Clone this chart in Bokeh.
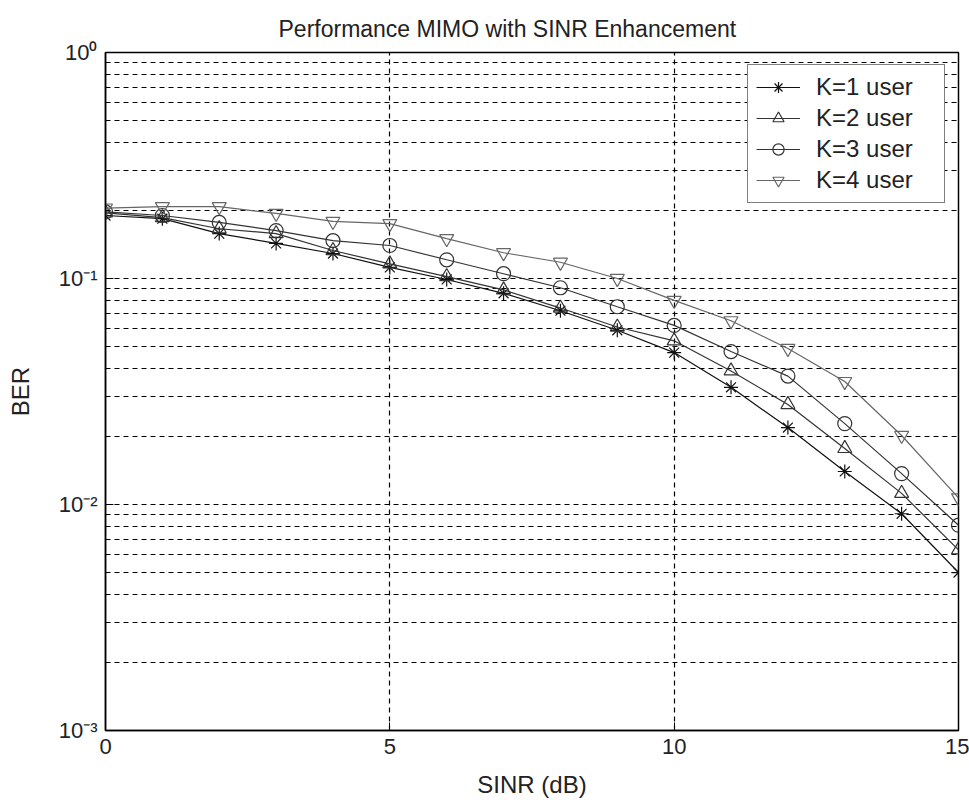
from bokeh.plotting import figure
from bokeh.models import FixedTicker, Legend, LegendItem, Range1d
from bokeh.embed import file_html
from bokeh.resources import INLINE

snr = list(range(16))
k1 = [0.19, 0.184, 0.158, 0.143, 0.129, 0.112, 0.099, 0.086, 0.072, 0.059, 0.047, 0.033, 0.0219, 0.014, 0.0091, 0.005]
k2 = [0.195, 0.186, 0.166, 0.158, 0.133, 0.116, 0.102, 0.089, 0.074, 0.061, 0.053, 0.039, 0.0277, 0.0177, 0.0112, 0.0063]
k3 = [0.197, 0.19, 0.177, 0.163, 0.147, 0.14, 0.121, 0.105, 0.091, 0.075, 0.062, 0.0475, 0.037, 0.0228, 0.0137, 0.0081]
k4 = [0.205, 0.208, 0.208, 0.194, 0.179, 0.175, 0.150, 0.130, 0.118, 0.100, 0.080, 0.065, 0.049, 0.035, 0.0202, 0.0107]
labels = ["K=1 user", "K=2 user", "K=3 user", "K=4 user"]
x_ticks = [0, 5, 10, 15]
y_ticks = [1e-3, 1e-2, 1e-1, 1.0]
y_tick_labels = {1e-3: "10\u207b\u00b3", 1e-2: "10\u207b\u00b2", 1e-1: "10\u207b\u00b9", 1.0: "10\u2070"}

FONT = "Liberation Sans"

p = figure(width=969, height=806, y_axis_type="log", output_backend="svg",
           toolbar_location=None, title="Performance MIMO with SINR Enhancement",
           x_range=Range1d(0, 15), y_range=Range1d(1e-3, 1.0),
           min_border_left=105, min_border_right=11, min_border_top=52, min_border_bottom=76)

p.title.align = "left"
p.title.offset = 173
p.title.standoff = 22
p.title.text_font = FONT
p.title.text_font_style = "normal"
p.title.text_font_size = "23px"
p.title.text_color = "#222"

p.outline_line_color = "black"
p.outline_line_width = 1.5
p.background_fill_color = "white"
p.border_fill_color = "white"

minor = [m * 10.0 ** e for e in (-3, -2, -1) for m in range(2, 10)]
p.yaxis.ticker = FixedTicker(ticks=y_ticks, minor_ticks=minor)
p.xaxis.ticker = FixedTicker(ticks=x_ticks, minor_ticks=[])
p.yaxis.major_label_overrides = y_tick_labels

for ax in (p.xaxis, p.yaxis):
    ax.axis_line_color = "black"
    ax.axis_line_width = 1.5
    ax.major_tick_in = 8
    ax.major_tick_out = 0
    ax.minor_tick_in = 4
    ax.minor_tick_out = 0
    ax.major_tick_line_color = "black"
    ax.minor_tick_line_color = "black"
    ax.major_label_text_font = FONT
    ax.major_label_text_font_size = "22px"
    ax.major_label_text_color = "#222"
    ax.axis_label_text_font = FONT
    ax.axis_label_text_font_style = "normal"
    ax.axis_label_text_font_size = "24px"
    ax.axis_label_text_color = "#222"

p.xaxis.axis_label = "SINR (dB)"
p.yaxis.axis_label = "BER"
p.xaxis.major_label_standoff = 8
p.yaxis.major_label_standoff = 8
p.xaxis.axis_label_standoff = 14
p.yaxis.axis_label_standoff = 22

p.xgrid.grid_line_color = "black"
p.xgrid.grid_line_dash = "5 4"
p.xgrid.grid_line_width = 1.2
p.ygrid.grid_line_color = "black"
p.ygrid.grid_line_dash = "5 4"
p.ygrid.grid_line_width = 1.2
p.ygrid.minor_grid_line_color = "black"
p.ygrid.minor_grid_line_dash = "5 4"
p.ygrid.minor_grid_line_width = 1.2

colors = ["#111111", "#333333", "#333333", "#666666"]
markers = ["asterisk", "triangle", "circle", "inverted_triangle"]
sizes = [14, 14, 14, 14]
series = [k1, k2, k3, k4]

items = []
for ys, c, m, s, lab in zip(series, colors, markers, sizes, labels):
    ln = p.line(snr, ys, line_color=c, line_width=1.2)
    sc = p.scatter(snr, ys, marker=m, size=s, line_color=c, fill_color=None, line_width=1.2)
    items.append(LegendItem(label=lab, renderers=[ln, sc]))

legend = Legend(items=items, location=(642, 527))
legend.label_text_font = FONT
legend.label_text_font_size = "24px"
legend.label_text_color = "#222"
legend.glyph_width = 44
legend.glyph_height = 28
legend.label_height = 28
legend.label_width = 120
legend.label_standoff = 16
legend.spacing = 3
legend.padding = 8
legend.margin = 0
legend.border_line_color = "black"
legend.border_line_width = 1.5
legend.background_fill_color = "white"
legend.background_fill_alpha = 1.0
p.add_layout(legend, "center")

open("out.html", "w").write(file_html(p, INLINE))
